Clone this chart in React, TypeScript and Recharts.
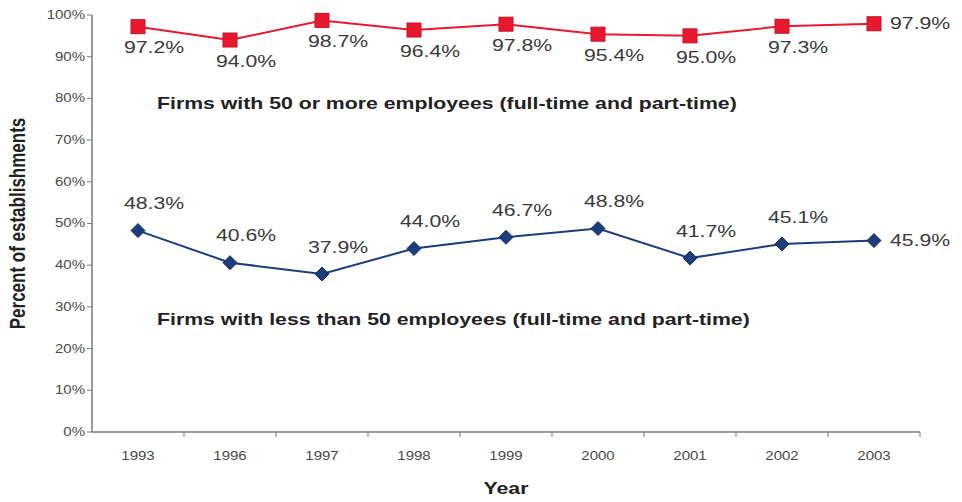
import React from 'react';
import { LineChart, Line, XAxis, YAxis } from 'recharts';

const years = ['1993', '1996', '1997', '1998', '1999', '2000', '2001', '2002', '2003'];
const largeFirms = [97.2, 94.0, 98.7, 96.4, 97.8, 95.4, 95.0, 97.3, 97.9];
const smallFirms = [48.3, 40.6, 37.9, 44.0, 46.7, 48.8, 41.7, 45.1, 45.9];
const yTicks = [0, 10, 20, 30, 40, 50, 60, 70, 80, 90, 100];
const largeTitle = 'Firms with 50 or more employees (full-time and part-time)';
const smallTitle = 'Firms with less than 50 employees (full-time and part-time)';

const data = years.map((y, i) => ({ year: y, large: largeFirms[i], small: smallFirms[i] }));

const FONT = '"Liberation Sans", Arial, sans-serif';
const RED = '#e8192f';
const BLUE = '#1c3d7a';
const AXIS = '#7a7a7a';
const SX = 1.25;

const SText = (p: any) => {
  const { x, y, anchor = 'middle', size = 12, weight = 'normal', fill = '#555', children, baseline } = p;
  return (
    <text
      transform={`translate(${x},${y}) scale(${SX},1)`}
      x={0}
      y={0}
      textAnchor={anchor}
      dominantBaseline={baseline}
      fontFamily={FONT}
      fontSize={size}
      fontWeight={weight}
      fill={fill}
    >
      {children}
    </text>
  );
};

const SquareDot = (props: any) => {
  const { cx, cy } = props;
  if (cx == null || cy == null) return null;
  return <rect x={cx - 7} y={cy - 7} width={14} height={14} fill={RED} stroke="#c8102a" strokeWidth={1} />;
};

const DiamondDot = (props: any) => {
  const { cx, cy } = props;
  if (cx == null || cy == null) return null;
  const r = 7;
  return (
    <polygon
      points={`${cx},${cy - r} ${cx + r},${cy} ${cx},${cy + r} ${cx - r},${cy}`}
      fill={BLUE}
      stroke="#16305f"
      strokeWidth={1}
    />
  );
};

const makeLabel = (dy: number) => (props: any) => {
  const { x, y, value, index } = props;
  const last = index === years.length - 1;
  return (
    <SText
      key={`l${index}`}
      x={x + 16}
      y={last ? y : y + dy}
      anchor={last ? 'start' : 'middle'}
      baseline="central"
      size={17}
      fill="#3a3a3a"
    >
      {Number(value).toFixed(1)}%
    </SText>
  );
};

const XTick = (props: any) => {
  const { x, y, payload } = props;
  const half = payload.offset || 0;
  return (
    <g>
      <line x1={x + half} y1={y - 8} x2={x + half} y2={y - 3} stroke={AXIS} strokeWidth={1} />
      <SText x={x} y={y + 20} size={12} fill="#4a4a4a">
        {payload.value}
      </SText>
    </g>
  );
};

const YTick = (props: any) => {
  const { x, y, payload } = props;
  return (
    <SText x={x} y={y} anchor="end" baseline="central" size={12} fill="#4a4a4a">
      {`${payload.value}%`}
    </SText>
  );
};

const YearLabel = (props: any) => {
  const vb = props.viewBox || {};
  return (
    <SText x={vb.x + vb.width / 2} y={vb.y + 62} size={17} weight="bold" fill="#222">
      Year
    </SText>
  );
};

const YLabel = (props: any) => {
  const vb = props.viewBox || {};
  const cx = 18;
  const cy = vb.y + vb.height / 2;
  return (
    <text
      transform={`translate(${cx},${cy}) rotate(-90) scale(1,${SX})`}
      x={0}
      y={0}
      textAnchor="middle"
      dominantBaseline="central"
      fontFamily={FONT}
      fontSize={17}
      fontWeight="bold"
      fill="#222"
    >
      Percent of establishments
    </text>
  );
};

export default function App() {
  return (
    <div style={{ position: 'absolute', left: 0, top: 0, width: 962, height: 502, background: '#fff' }}>
      <LineChart width={962} height={502} data={data} margin={{ top: 15, right: 42, bottom: 0, left: 0 }}>
        <XAxis
          dataKey="year"
          scale="band"
          height={70}
          axisLine={{ stroke: AXIS, strokeWidth: 1.5 }}
          tickLine={false}
          tick={<XTick />}
          interval={0}
          label={<YearLabel />}
        />
        <YAxis
          width={92}
          domain={[0, 100]}
          ticks={yTicks}
          interval={0}
          axisLine={{ stroke: AXIS, strokeWidth: 1.5 }}
          tickLine={{ stroke: AXIS }}
          tickSize={5}
          tick={<YTick />}
          label={<YLabel />}
        />
        <Line
          dataKey="large"
          stroke={RED}
          strokeWidth={2}
          dot={<SquareDot />}
          activeDot={false}
          isAnimationActive={false}
          label={makeLabel(21)}
        />
        <Line
          dataKey="small"
          stroke={BLUE}
          strokeWidth={2}
          dot={<DiamondDot />}
          activeDot={false}
          isAnimationActive={false}
          label={makeLabel(-27)}
        />
      </LineChart>
      <div style={{ position: 'absolute', left: 157, top: 94, fontFamily: FONT, fontSize: 17, fontWeight: 'bold', color: '#222', whiteSpace: 'nowrap', transform: `scaleX(${SX})`, transformOrigin: 'left top' }}>
        {largeTitle}
      </div>
      <div style={{ position: 'absolute', left: 157, top: 310, fontFamily: FONT, fontSize: 17, fontWeight: 'bold', color: '#222', whiteSpace: 'nowrap', transform: `scaleX(${SX})`, transformOrigin: 'left top' }}>
        {smallTitle}
      </div>
    </div>
  );
}
